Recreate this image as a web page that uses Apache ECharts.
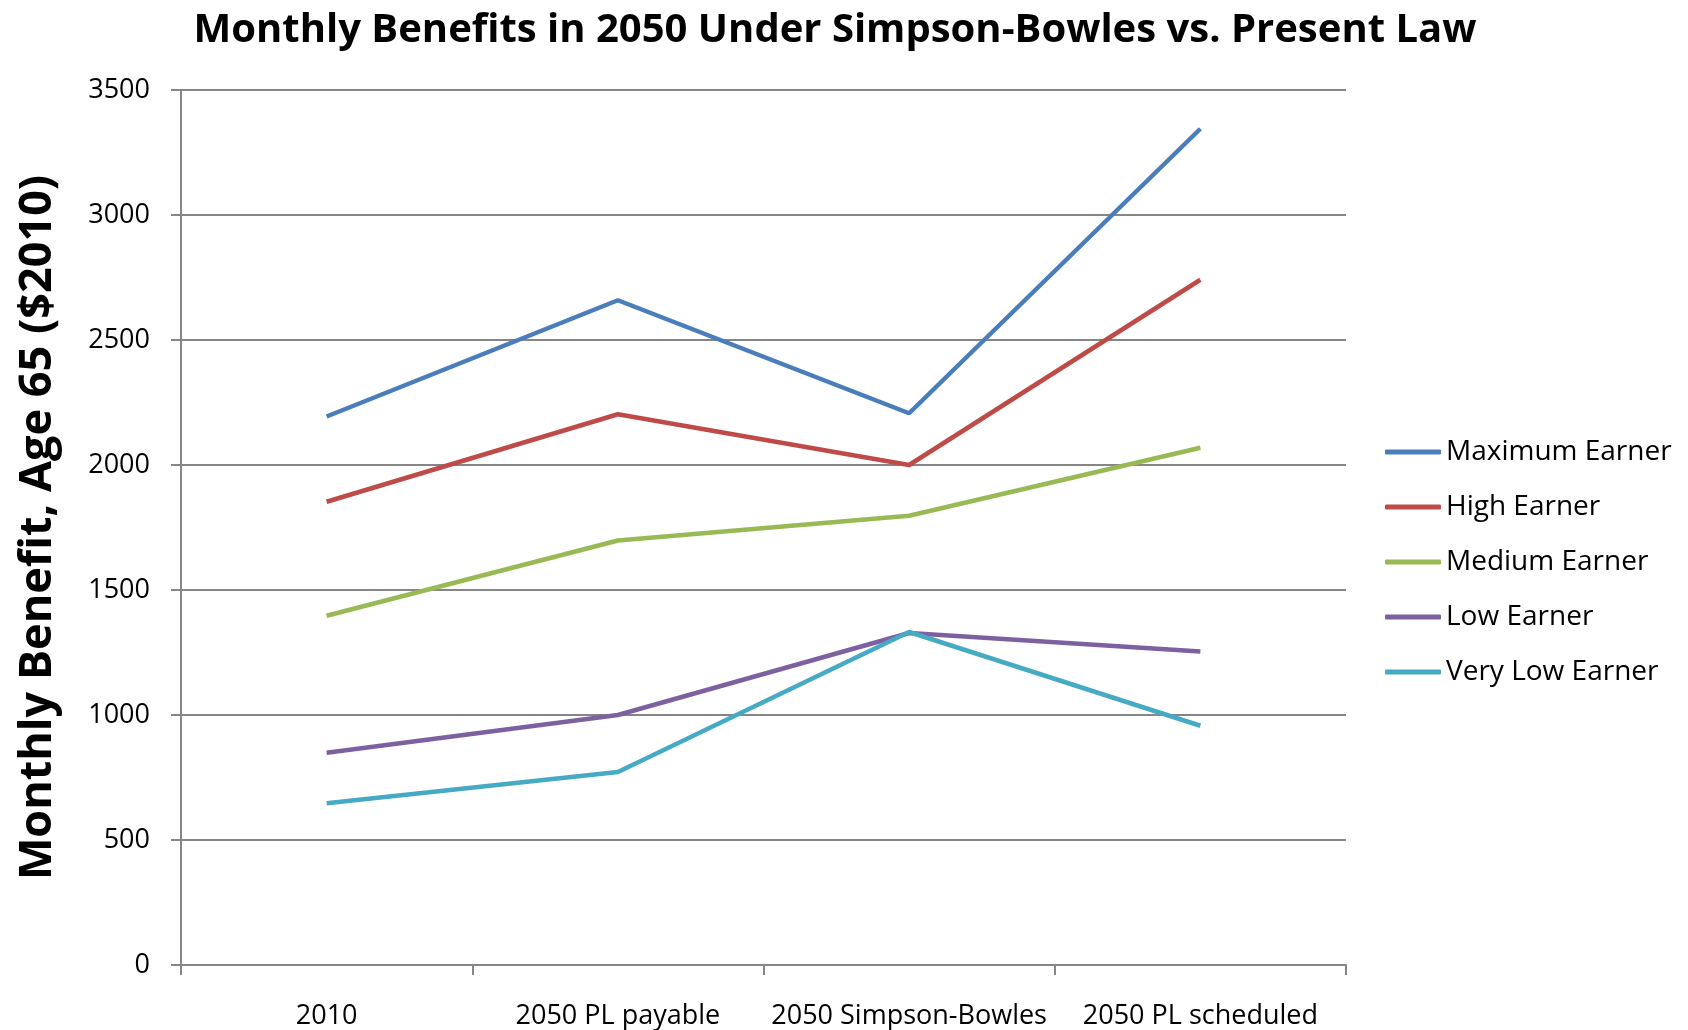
<!DOCTYPE html>
<html>
<head>
<meta charset="utf-8">
<script src="https://cdn.jsdelivr.net/npm/echarts@6/dist/echarts.min.js"></script>
<style>html,body{margin:0;padding:0;background:#fff}#c{width:1688px;height:1030px}</style>
</head>
<body>
<div id="c"></div>
<script>
const categories = ['2010', '2050 PL payable', '2050 Simpson-Bowles', '2050 PL scheduled'];
const seriesNames = ['Maximum Earner', 'High Earner', 'Medium Earner', 'Low Earner', 'Very Low Earner'];
const maximumEarner = [2194, 2659, 2207, 3345];
const highEarner = [1853, 2203, 2000, 2741];
const mediumEarner = [1397, 1698, 1797, 2069];
const lowEarner = [849, 1000, 1328, 1254];
const veryLowEarner = [647, 772, 1332, 957];
const yTicks = [0, 500, 1000, 1500, 2000, 2500, 3000, 3500];
const colors = ['#4A7EBB', '#BE4B48', '#98B954', '#7D60A0', '#46AAC5'];
const values = [maximumEarner, highEarner, mediumEarner, lowEarner, veryLowEarner];

const chart = echarts.init(document.getElementById('c'));
const font = '"Open Sans", sans-serif';
chart.setOption({
  animation: false,
  backgroundColor: '#fff',
  title: {
    text: 'Monthly Benefits in 2050 Under Simpson-Bowles vs. Present Law',
    left: 830, top: 6, textAlign: 'center',
    textStyle: { fontFamily: font, fontWeight: 'bold', fontSize: 40, color: '#000' }
  },
  legend: {
    orient: 'vertical', left: 1380, top: 430,
    icon: 'roundRect', itemWidth: 56, itemHeight: 5, itemGap: 21,
    textStyle: { fontFamily: font, fontSize: 28, color: '#000', lineHeight: 34 },
    data: seriesNames
  },
  grid: { left: 181, right: 342, top: 90, bottom: 65, containLabel: false },
  xAxis: {
    type: 'category', data: categories, boundaryGap: true,
    axisLine: { lineStyle: { color: '#868686', width: 2 } },
    axisTick: { show: true, length: 10, lineStyle: { color: '#868686', width: 2 } },
    axisLabel: { fontFamily: font, fontSize: 27, color: '#000', margin: 38, interval: 0 }
  },
  yAxis: {
    type: 'value', min: 0, max: 3500, interval: 500,
    name: 'Monthly Benefit, Age 65 ($2010)', nameLocation: 'middle', nameRotate: 90, nameGap: 120,
    nameTextStyle: { fontFamily: font, fontWeight: 'bold', fontSize: 45, color: '#000' },
    axisLine: { show: true, lineStyle: { color: '#868686', width: 2 } },
    axisTick: { show: true, length: 10, lineStyle: { color: '#868686', width: 2 } },
    splitLine: { lineStyle: { color: '#868686', width: 2 } },
    axisLabel: { fontFamily: font, fontSize: 27, color: '#000', margin: 31,
      formatter: v => yTicks.includes(v) ? String(v) : '' }
  },
  series: seriesNames.map((n, i) => ({
    name: n, type: 'line', data: values[i], symbol: 'none',
    lineStyle: { width: 4.5, color: colors[i] }, itemStyle: { color: colors[i] }
  }))
});
</script>
</body>
</html>
